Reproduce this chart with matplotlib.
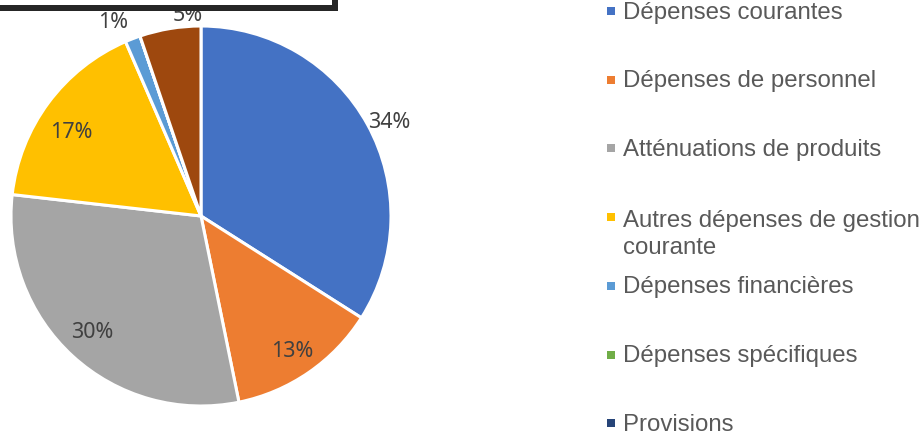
import numpy as np
import matplotlib
matplotlib.use("Agg")
import matplotlib.pyplot as plt
from matplotlib.patches import Rectangle

# ---- data ----
categories = [
    "Dépenses courantes",
    "Dépenses de personnel",
    "Atténuations de produits",
    "Autres dépenses de gestion\ncourante",
    "Dépenses financières",
    "Dépenses spécifiques",
    "Provisions",
    "Dépenses exceptionnelles",
]
values = [34.0, 12.8, 30.0, 16.7, 1.3, 0.0, 0.0, 5.2]
colors = ["#4472C4", "#ED7D31", "#A5A5A5", "#FFC000", "#5B9BD5",
          "#70AD47", "#264478", "#9E480E"]

# ---- layout / style ----
W, H = 922, 436
label_radius = [1.11, 0.85, 0.83, 0.82, 1.13, 1.1, 1.1, 1.07]
label_angle_shift = [-1.7, 0, -1, 3, 3.0, 0, 0, -5.7]

fig = plt.figure(figsize=(W / 100, H / 100), dpi=100)
cx, cy, R = 201, 216, 190
ax = fig.add_axes([(cx - R) / W, (H - cy - R) / H, 2 * R / W, 2 * R / H])

wedges, _ = ax.pie(values, colors=colors, startangle=90, counterclock=False,
                   radius=1, wedgeprops=dict(edgecolor="white", linewidth=2.2))
ax.set_xlim(-1, 1)
ax.set_ylim(-1, 1)
ax.set_aspect("auto")
ax.axis("off")

total = sum(values)
cum = 0.0
for v, rf, sh in zip(values, label_radius, label_angle_shift):
    if v > 0:
        mid = cum + v / 2
        ang = np.deg2rad(90 - mid / total * 360 + sh)
        ax.text(rf * np.cos(ang), rf * np.sin(ang), f"{v / total * 100:.0f}%",
                ha="center", va="center_baseline", fontsize=15.5,
                color="#404040", family="Noto Sans")
    cum += v

# legend drawn manually (Excel style, overflowing at the bottom)
y0, step, line_gap = 10, 68.7, 29.5
for i, (lab, col) in enumerate(zip(categories, colors)):
    yc = y0 + step * i
    nl = lab.count("\n")
    fig.add_artist(Rectangle((607 / W, 1 - (yc + 5) / H), 8 / W, 8 / H,
                             transform=fig.transFigure, facecolor=col,
                             edgecolor="none"))
    fig.text(623 / W, 1 - (yc + 8.6 + nl * line_gap) / H, lab, ha="left",
             va="baseline", fontsize=17.3, color="#595959",
             family="Liberation Sans", linespacing=1.32)

# cropped black frame at the top left
fig.add_artist(Rectangle((0, 1 - 11 / H), 338 / W, 6 / H,
                         transform=fig.transFigure, facecolor="#262626",
                         edgecolor="none", zorder=10))
fig.add_artist(Rectangle((332 / W, 1 - 11 / H), 6 / W, 11 / H,
                         transform=fig.transFigure, facecolor="#262626",
                         edgecolor="none", zorder=10))

fig.savefig("out.png", dpi=100)
